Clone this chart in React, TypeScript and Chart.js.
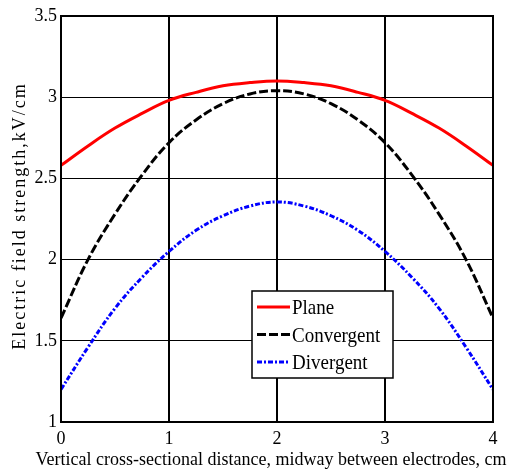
import React, { useEffect, useRef } from "react";
import { Chart, registerables } from "chart.js";

Chart.register(...registerables);

// Distance along the vertical cross-section (cm)
const distances = [0, 0.25, 0.5, 0.75, 1, 1.25, 1.5, 1.75, 2, 2.25, 2.5, 2.75, 3, 3.25, 3.5, 3.75, 4];

// Field strength (kV/cm) for each electrode geometry
const planeValues = [2.58, 2.7, 2.81, 2.9, 2.98, 3.03, 3.07, 3.09, 3.1, 3.09, 3.07, 3.03, 2.98, 2.9, 2.81, 2.7, 2.58];
const convergentValues = [1.64, 2.0, 2.28, 2.52, 2.72, 2.86, 2.96, 3.02, 3.04, 3.02, 2.96, 2.86, 2.72, 2.52, 2.28, 2.0, 1.64];
const divergentValues = [1.2, 1.46, 1.7, 1.89, 2.05, 2.18, 2.27, 2.33, 2.355, 2.33, 2.27, 2.18, 2.05, 1.89, 1.7, 1.46, 1.2];

const seriesNames = ["Plane", "Convergent", "Divergent"];
const xTicks = [0, 1, 2, 3, 4];
const yTicks = [1, 1.5, 2, 2.5, 3, 3.5];

const xTitle = "Vertical cross-sectional distance, midway between electrodes, cm";
const yTitle = "Electric field strength,kV/cm";

const SERIF = "'Liberation Serif'";

const seriesStyles = [
  { color: "#ff0000", dash: [] as number[] },
  { color: "#000000", dash: [9, 3] },
  { color: "#0000ff", dash: [5, 2, 2, 2] },
];

const toPoints = (ys: number[]) => distances.map((x, i) => ({ x, y: ys[i] }));

// draws text centred on the origin with extra space between characters
function fillSpacedText(ctx: CanvasRenderingContext2D, text: string, spacing: number) {
  const chars = Array.from(text);
  const widths = chars.map((ch) => ctx.measureText(ch).width);
  const total = widths.reduce((a, b) => a + b, 0) + spacing * (chars.length - 1);
  let x = -total / 2;
  ctx.textAlign = "left";
  chars.forEach((ch, i) => {
    ctx.fillText(ch, x, 0);
    x += widths[i] + spacing;
  });
}

const decorPlugin = {
  id: "decor",
  afterDatasetsDraw(chart: any) {
    const { ctx, chartArea: ca } = chart;
    ctx.save();
    // plot frame
    ctx.strokeStyle = "#000";
    ctx.lineWidth = 2;
    ctx.setLineDash([]);
    ctx.strokeRect(ca.left, ca.top, ca.right - ca.left, ca.bottom - ca.top);

    // legend box
    const bx = ca.left + 191;
    const by = ca.top + 275;
    const bw = 141;
    const bh = 87;
    ctx.fillStyle = "#fff";
    ctx.fillRect(bx, by, bw, bh);
    ctx.lineWidth = 1.5;
    ctx.strokeRect(bx, by, bw, bh);

    chart.data.datasets.forEach((ds: any, i: number) => {
      const cy = by + 16 + i * 27.5;
      ctx.beginPath();
      ctx.strokeStyle = ds.borderColor;
      ctx.lineWidth = 3;
      ctx.setLineDash(ds.borderDash || []);
      ctx.moveTo(bx + 5, cy);
      ctx.lineTo(bx + 38, cy);
      ctx.stroke();
      ctx.setLineDash([]);
      ctx.save();
      ctx.translate(bx + 40, cy + 7);
      ctx.scale(1, 1.12);
      ctx.fillStyle = "#000";
      ctx.font = `19px ${SERIF}`;
      ctx.textAlign = "left";
      ctx.textBaseline = "alphabetic";
      ctx.fillText(ds.label, 0, 0);
      ctx.restore();
    });
    ctx.restore();
  },
  afterDraw(chart: any) {
    const { ctx } = chart;
    ctx.save();
    ctx.fillStyle = "#000";
    ctx.font = `18px ${SERIF}`;
    ctx.textBaseline = "alphabetic";

    // x-axis title
    ctx.save();
    ctx.translate(271, 465);
    ctx.scale(1, 1.1);
    ctx.textAlign = "center";
    ctx.fillText(xTitle, 0, 0);
    ctx.restore();

    // y-axis title
    ctx.save();
    ctx.translate(25, 217);
    ctx.rotate(-Math.PI / 2);
    fillSpacedText(ctx, yTitle, 2);
    ctx.restore();

    ctx.restore();
  },
};

export default function App() {
  const canvasRef = useRef<HTMLCanvasElement | null>(null);

  useEffect(() => {
    if (!canvasRef.current) return;
    const datasets = [planeValues, convergentValues, divergentValues].map((vals, i) => ({
      label: seriesNames[i],
      data: toPoints(vals),
      borderColor: seriesStyles[i].color,
      backgroundColor: seriesStyles[i].color,
      borderDash: seriesStyles[i].dash,
      borderWidth: 3,
      pointRadius: 0,
      fill: false,
      tension: 0.4,
    }));

    const chart = new Chart(canvasRef.current, {
      type: "line",
      data: { datasets },
      options: {
        responsive: false,
        animation: false,
        layout: { padding: { top: 16, right: 35, left: 0, bottom: 0 } },
        plugins: {
          legend: { display: false },
          tooltip: { enabled: false },
        },
        scales: {
          x: {
            type: "linear",
            min: 0,
            max: 4,
            afterBuildTicks: (scale: any) => {
              scale.ticks = xTicks.map((v) => ({ value: v }));
            },
            afterFit: (scale: any) => {
              scale.height = 50;
            },
            grid: { color: "#000", lineWidth: 2, drawTicks: false },
            border: { display: false },
            ticks: {
              color: "#000",
              padding: 6,
              maxRotation: 0,
              font: { family: SERIF, size: 18 },
            },
          },
          y: {
            type: "linear",
            min: 1,
            max: 3.5,
            afterBuildTicks: (scale: any) => {
              scale.ticks = yTicks.map((v) => ({ value: v }));
            },
            afterFit: (scale: any) => {
              scale.width = 61;
            },
            grid: { color: "#000", lineWidth: 1, drawTicks: false },
            border: { display: false },
            ticks: {
              color: "#000",
              padding: 4,
              font: { family: SERIF, size: 18 },
              callback: (v: any) => String(v),
            },
          },
        },
      },
      plugins: [decorPlugin],
    });
    return () => chart.destroy();
  }, []);

  return (
    <div style={{ position: "fixed", left: 0, top: 0, width: 528, height: 472, background: "#fff" }}>
      <canvas ref={canvasRef} width={528} height={472} />
    </div>
  );
}
